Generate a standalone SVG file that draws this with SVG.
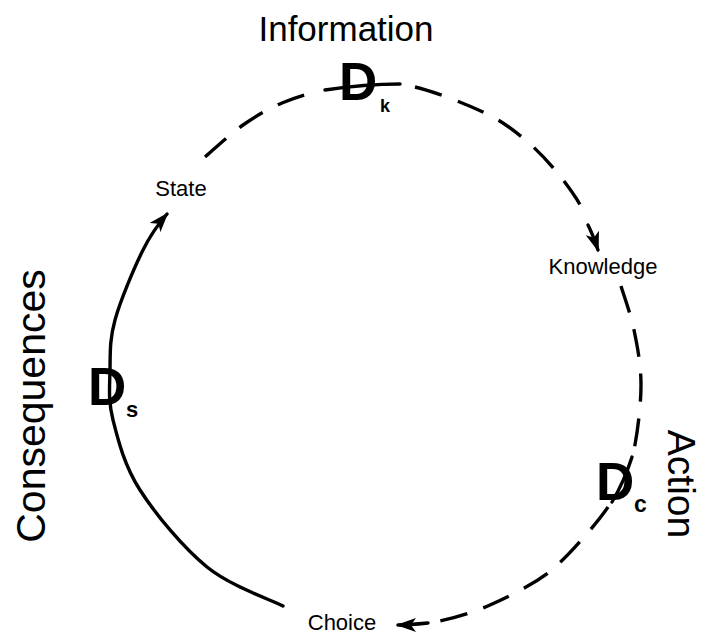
<svg xmlns="http://www.w3.org/2000/svg" width="705" height="636" viewBox="0 0 705 636">
  <style>
    .lbl { font-family: "Liberation Sans", Arial, sans-serif; fill: #000; }
    .big { font-size: 35px; }
    .small { font-size: 22px; }
    .valve { font-family: "Liberation Sans", Arial, sans-serif; font-weight: bold; font-size: 53px; fill: #000; }
    .sub { font-family: "Liberation Sans", Arial, sans-serif; font-weight: bold; fill: #000; }
    .solid { fill: none; stroke: #000; stroke-width: 3.4; stroke-linecap: round; }
    .dash { fill: none; stroke: #000; stroke-width: 3.4; stroke-dasharray: 28 17; stroke-linecap: butt; }
    .arrow { marker-end: url(#head); }
  </style>
  <defs>
    <marker id="head" markerUnits="userSpaceOnUse" viewBox="0 0 20 14" refX="18" refY="7" markerWidth="20" markerHeight="14" orient="auto">
      <path d="M20,7 L0,0 L5,7 L0,14 Z" fill="#000"/>
    </marker>
  </defs>
  <rect width="705" height="636" fill="#fff"/>

  <!-- connectors: the cycle State -> Knowledge -> Choice -> State -->
  <g id="connectors">
    <!-- State to Knowledge (dashed, with the Dk valve line) -->
    <path class="dash" d="M205,157 C211.3,151.7 230.2,134 243,125 C255.8,116 268.2,108.7 282,103 C295.8,97.3 304,95 312,93"/>
    <path class="solid" d="M325,90 C345,87 370,84 400,84"/>
    <path class="dash" d="M415,87 C436,92 467.8,104.8 485,113 C502.2,121.2 511.3,128.5 523,138 C534.7,147.5 545.2,158.3 555,170 C564.8,181.7 575,195.5 582,208"/>
    <path class="solid arrow" d="M588,225 C592,233 595,241 598,250"/>

    <!-- Knowledge to Choice (dashed, with the Dc valve line) -->
    <path class="dash" d="M621,286 C623,293 630.5,313.2 634,330 C637.5,346.8 641,365 641,385 C641,405 637.5,432.8 634,450"/>
    <path class="solid" d="M632,457 Q624,482 612,502"/>
    <path class="dash" d="M608,507 C598,522 565.5,560 548,573 C530.5,586 508,597 490,605 C472,613 455.3,617.7 440,621"/>
    <path class="solid arrow" d="M428,623 C418,624 408,625 398,625"/>

    <!-- Choice to State (solid, through the Ds valve) -->
    <path class="solid arrow" d="M283,606 C270.3,599.5 230.8,586.3 207,567 C183.2,547.7 155.7,514.5 140,490 C124.3,465.5 118,440 113,420 C108,400 109.7,386.7 110,370 C110.3,353.3 109.5,340 115,320 C120.5,300 134.5,267 143,250 C151.5,233 160,222 167,214"/>
  </g>

  <!-- valves -->
  <g id="node-dk">
    <text class="valve" x="339" y="100">D</text>
    <text class="sub" x="380" y="112" font-size="18">k</text>
  </g>
  <g id="node-dc">
    <text class="valve" x="596" y="500">D</text>
    <text class="sub" x="634" y="512" font-size="23">c</text>
  </g>
  <g id="node-ds">
    <text class="valve" x="88" y="405">D</text>
    <text class="sub" x="126" y="417" font-size="22">s</text>
  </g>

  <!-- cycle stages -->
  <g id="node-state">
    <text class="lbl small" x="181" y="196" text-anchor="middle">State</text>
  </g>
  <g id="node-knowledge">
    <text class="lbl small" x="603" y="274" text-anchor="middle">Knowledge</text>
  </g>
  <g id="node-choice">
    <text class="lbl small" x="342" y="630" text-anchor="middle">Choice</text>
  </g>

  <!-- phase labels -->
  <g id="node-information">
    <text class="lbl big" x="346" y="41" text-anchor="middle">Information</text>
  </g>
  <g id="node-action">
    <text class="lbl" font-size="39" transform="translate(668,484) rotate(90)" text-anchor="middle">Action</text>
  </g>
  <g id="node-consequences">
    <text class="lbl" font-size="41" transform="translate(45,406) rotate(-90)" text-anchor="middle">Consequences</text>
  </g>
</svg>
